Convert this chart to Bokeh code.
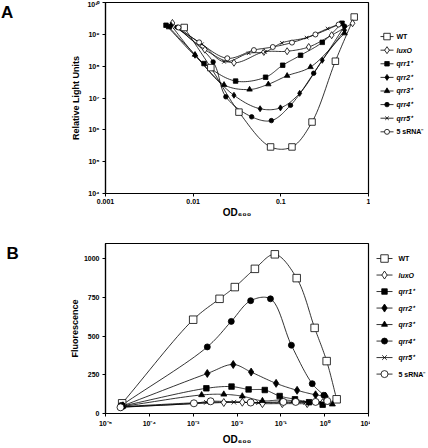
import math
from bokeh.plotting import figure
from bokeh.models import Range1d, FixedTicker, ColumnDataSource
from bokeh.layouts import column, row
from bokeh.embed import file_html
from bokeh.resources import INLINE
from bokeh.core.properties import value, field

FONT = "Liberation Sans"

# ---------------- data ----------------
series = ["WT", "luxO", "qrr1", "qrr2", "qrr3", "qrr4", "qrr5", "sRNA"]
legend_labels = ["WT", "luxO", "qrr1⁺", "qrr2⁺", "qrr3⁺", "qrr4⁺", "qrr5⁺", "5 sRNA⁻"]
legend_styles = ["bold", "bold italic", "bold italic", "bold italic",
                 "bold italic", "bold italic", "bold italic", "bold"]
panel_letters = ["A", "B"]

# Panel A: luminescence (Relative Light Units) vs OD600
a_wt_x = [0.0079, 0.0159, 0.0333, 0.0764, 0.134, 0.227, 0.419, 0.687]
a_wt_y = [1.64e9, 9.0e7, 3.6e6, 2.9e5, 2.9e5, 1.76e6, 1.43e8, 3.5e9]
a_luxo_x = [0.0058, 0.0136, 0.0292, 0.064, 0.118, 0.208, 0.38, 0.658]
a_luxo_y = [2.28e9, 3.3e8, 1.28e8, 2.8e8, 2.94e8, 4.0e8, 9.4e8, 2.23e9]
a_qrr1_x = [0.0049, 0.0133, 0.0305, 0.067, 0.105, 0.168, 0.297, 0.498]
a_qrr1_y = [1.93e9, 1.21e8, 3.4e7, 4.5e7, 1.07e8, 2.2e8, 5.6e8, 2.23e9]
a_qrr2_x = [0.0056, 0.0105, 0.0292, 0.058, 0.099, 0.164, 0.297, 0.533]
a_qrr2_y = [1.93e9, 2.2e8, 1.22e7, 4.6e6, 4.9e6, 1.4e7, 1.53e8, 1.35e9]
a_qrr3_x = [0.0053, 0.0105, 0.0225, 0.044, 0.072, 0.118, 0.218, 0.533]
a_qrr3_y = [1.67e9, 2.3e8, 2.6e7, 1.85e7, 2.7e7, 5.0e7, 9.4e7, 1.08e9]
a_qrr4_x = [0.0066, 0.0169, 0.0236, 0.0465, 0.078, 0.129, 0.237, 0.533]
a_qrr4_y = [1.67e9, 1.36e8, 1.09e7, 2.56e6, 1.95e6, 5.9e6, 6.0e7, 1.8e9]
a_qrr5_x = [0.0062, 0.0126, 0.0225, 0.043, 0.066, 0.103, 0.197, 0.342, 0.507]
a_qrr5_y = [1.67e9, 4.9e8, 1.37e8, 2.55e8, 2.8e8, 5.4e8, 7.9e8, 1.52e9, 2.28e9]
a_srna_x = [0.0068, 0.0117, 0.0245, 0.0493, 0.081, 0.134, 0.248, 0.456]
a_srna_y = [1.64e9, 5.6e8, 1.77e8, 3.2e8, 4.0e8, 5.5e8, 9.9e8, 2.03e9]

# Panel B: Fluorescence vs OD600
b_wt_x = [2.4e-5, 1.0e-3, 4.0e-3, 8.9e-3, 2.56e-2, 7.3e-2, 0.23, 0.59, 1.11, 1.88]
b_wt_y = [66, 607, 742, 818, 936, 1030, 876, 554, 339, 92]
b_luxo_x = [2.3e-5, 5.0e-3, 1.32e-2, 3.8e-2, 0.108, 0.40, 0.9]
b_luxo_y = [42, 71, 73, 64, 64, 64, 70]
b_qrr1_x = [2.4e-5, 2.0e-3, 7.5e-3, 1.84e-2, 4.3e-2, 9.4e-2, 0.21, 0.44, 0.9]
b_qrr1_y = [48, 163, 174, 156, 152, 113, 92, 73, 57]
b_qrr2_x = [2.5e-5, 2.1e-3, 8.2e-3, 2.1e-2, 7.8e-2, 0.235, 0.62, 1.05]
b_qrr2_y = [50, 259, 317, 268, 195, 150, 121, 111]
b_qrr3_x = [2.5e-5, 1.56e-3, 5.0e-3, 1.32e-2, 3.8e-2, 0.104, 0.2, 1.5]
b_qrr3_y = [46, 120, 124, 112, 82, 88, 82, 60]
b_qrr4_x = [2.3e-5, 2.1e-3, 7.4e-3, 2.05e-2, 5.8e-2, 0.174, 0.52, 0.96]
b_qrr4_y = [52, 431, 596, 730, 742, 442, 193, 118]
b_qrr5_x = [2.4e-5, 2.0e-3, 8.5e-3, 3.1e-2, 0.11, 0.37, 1.05]
b_qrr5_y = [45, 72, 73, 70, 70, 72, 75]
b_srna_x = [2.2e-5, 1.04e-3, 2.5e-3, 2.05e-2, 0.114, 0.218, 0.62, 1.15]
b_srna_y = [40, 66, 79, 71, 75, 75, 75, 81]

a_ticks_x = [0.001, 0.01, 0.1, 1]
a_tick_labels_x = ["0.001", "0.01", "0.1", "1"]
a_ticks_y = [1e4, 1e5, 1e6, 1e7, 1e8, 1e9, 1e10]
a_tick_labels_y = ["10⁴", "10⁵", "10⁶", "10⁷", "10⁸", "10⁹", "10¹⁰"]
b_ticks_x = [1e-5, 1e-4, 1e-3, 1e-2, 1e-1, 1, 10]
b_tick_labels_x = ["10⁻⁵", "10⁻⁴", "10⁻³", "10⁻²", "10⁻¹", "10⁰", "10¹"]
b_ticks_y = [0, 250, 500, 750, 1000]
b_tick_labels_y = ["0", "250", "500", "750", "1000"]

panel_a = {
    "WT": (a_wt_x, a_wt_y), "luxO": (a_luxo_x, a_luxo_y),
    "qrr1": (a_qrr1_x, a_qrr1_y), "qrr2": (a_qrr2_x, a_qrr2_y),
    "qrr3": (a_qrr3_x, a_qrr3_y), "qrr4": (a_qrr4_x, a_qrr4_y),
    "qrr5": (a_qrr5_x, a_qrr5_y), "sRNA": (a_srna_x, a_srna_y),
}
panel_b = {
    "WT": (b_wt_x, b_wt_y), "luxO": (b_luxo_x, b_luxo_y),
    "qrr1": (b_qrr1_x, b_qrr1_y), "qrr2": (b_qrr2_x, b_qrr2_y),
    "qrr3": (b_qrr3_x, b_qrr3_y), "qrr4": (b_qrr4_x, b_qrr4_y),
    "qrr5": (b_qrr5_x, b_qrr5_y), "sRNA": (b_srna_x, b_srna_y),
}

# marker, fill, size in A, size in B
MARK = {
    "WT": ("square", "white", 6.5, 7.5),
    "luxO": ("diamond", "white", 7, 8),
    "qrr1": ("square", "black", 4.5, 5.5),
    "qrr2": ("diamond", "black", 6, 8),
    "qrr3": ("triangle", "black", 5.5, 6),
    "qrr4": ("circle", "black", 4.5, 6),
    "qrr5": ("x", "black", 5, 6.5),
    "sRNA": ("circle", "white", 5, 7),
}

# ---------------- geometry ----------------
LET_W = 20
FIG_W = 350
LEG_W = 56
A_H, B_H = 240, 207
A_TOP, B_TOP = 2, 3
A_FH, B_FH = 191, 171
FW = 263


def smooth(xs, ys, fx, fy, ix, iy, n=16):
    P = [(fx(x), fy(y)) for x, y in zip(xs, ys)]
    m = len(P)
    ext = [(2 * P[0][0] - P[1][0], 2 * P[0][1] - P[1][1])] + P + \
          [(2 * P[-1][0] - P[-2][0], 2 * P[-1][1] - P[-2][1])]
    out = []
    for i in range(1, m):
        p0, p1, p2, p3 = ext[i - 1], ext[i], ext[i + 1], ext[i + 2]

        def tj(ti, a, b):
            return ti + max(math.hypot(b[0] - a[0], b[1] - a[1]), 1e-6) ** 0.5
        t0 = 0.0
        t1 = tj(t0, p0, p1)
        t2 = tj(t1, p1, p2)
        t3 = tj(t2, p2, p3)
        for k in range(n):
            t = t1 + (t2 - t1) * k / n

            def lerp(a, b, ta, tb):
                wa = (tb - t) / (tb - ta)
                wb = (t - ta) / (tb - ta)
                return (wa * a[0] + wb * b[0], wa * a[1] + wb * b[1])
            A1 = lerp(p0, p1, t0, t1)
            A2 = lerp(p1, p2, t1, t2)
            A3 = lerp(p2, p3, t2, t3)
            B1 = lerp(A1, A2, t0, t2)
            B2 = lerp(A2, A3, t1, t3)
            out.append(lerp(B1, B2, t1, t2))
    out.append(P[-1])
    return [ix(c[0]) for c in out], [iy(c[1]) for c in out]


def style_axes(p, xlab, ylab, ylab_standoff, xlab_standoff, xlab_lstand):
    for ax in (p.xaxis[0], p.yaxis[0]):
        ax.axis_line_color = "black"
        ax.axis_line_width = 1.2
        ax.major_tick_line_color = "black"
        ax.major_tick_out = 3
        ax.major_tick_in = 0
        ax.minor_tick_line_color = None
        ax.major_label_text_font = FONT
        ax.major_label_text_font_size = "7px"
        ax.major_label_text_font_style = "bold"
        ax.major_label_text_color = "black"
        ax.axis_label_text_font = FONT
        ax.axis_label_text_font_style = "bold"
        ax.axis_label_text_color = "black"
    p.xaxis.axis_label = xlab
    p.xaxis.axis_label_text_font_size = "10px"
    p.xaxis.axis_label_standoff = xlab_standoff
    p.xaxis.major_label_standoff = xlab_lstand
    p.yaxis.axis_label = ylab
    p.yaxis.axis_label_text_font_size = "9px"
    p.yaxis.axis_label_standoff = ylab_standoff
    p.yaxis.major_label_standoff = 3
    p.grid.visible = False
    p.outline_line_color = "black"
    p.outline_line_width = 1.2
    p.background_fill_color = "white"
    p.border_fill_color = "white"


def draw_series(p, data, fx, fy, ix, iy, size_idx):
    for name in series:
        xs, ys = data[name]
        sx, sy = smooth(xs, ys, fx, fy, ix, iy)
        p.line(sx, sy, line_color="black", line_width=0.8)
    for name in series:
        xs, ys = data[name]
        mk, fill, sa, sb = MARK[name]
        size = sa if size_idx == 0 else sb
        p.scatter(xs, ys, marker=mk, size=size, fill_color=fill,
                  line_color="black", line_width=0.8)


def blank_fig(w, h):
    f = figure(width=w, height=h, x_range=Range1d(0, w), y_range=Range1d(h, 0),
               x_axis_type=None, y_axis_type=None, output_backend="svg",
               toolbar_location=None, min_border=0)
    f.grid.visible = False
    f.outline_line_color = None
    f.background_fill_color = "white"
    f.border_fill_color = "white"
    return f


def letter_fig(h, letter, x_left, y_top):
    f = blank_fig(LET_W, h)
    f.text(x=[x_left], y=[y_top], text=[letter], text_font=value(FONT),
           text_font_size="17px", text_font_style="bold",
           text_baseline="top", text_align="left", text_color="black")
    return f


# ---------------- panel A ----------------
pa = figure(width=FIG_W, height=A_H, x_axis_type="log", y_axis_type="log",
            x_range=Range1d(1e-3, 1), y_range=Range1d(1e4, 1e10),
            output_backend="svg", toolbar_location=None,
            min_border_left=FIG_W - FW - 2, min_border_right=2,
            min_border_top=A_TOP, min_border_bottom=A_H - A_TOP - A_FH)
pa.xaxis.ticker = FixedTicker(ticks=a_ticks_x)
pa.xaxis.major_label_overrides = dict(zip(a_ticks_x, a_tick_labels_x))
pa.yaxis.ticker = FixedTicker(ticks=a_ticks_y)
pa.yaxis.major_label_overrides = dict(zip(a_ticks_y, a_tick_labels_y))
style_axes(pa, "OD₆₀₀", "Relative Light Units", 3, 0, 2)

ax_px = FW / 3.0
ay_px = A_FH / 6.0
draw_series(pa, panel_a,
            lambda x: math.log10(x) * ax_px, lambda y: math.log10(y) * ay_px,
            lambda u: 10 ** (u / ax_px), lambda v: 10 ** (v / ay_px), 0)

# ---------------- panel B ----------------
pb = figure(width=FIG_W, height=B_H, x_axis_type="log",
            x_range=Range1d(1e-5, 10), y_range=Range1d(0, 1100),
            output_backend="svg", toolbar_location=None,
            min_border_left=FIG_W - FW - 2, min_border_right=2,
            min_border_top=B_TOP, min_border_bottom=B_H - B_TOP - B_FH)
pb.xaxis.ticker = FixedTicker(ticks=b_ticks_x)
pb.xaxis.major_label_overrides = dict(zip(b_ticks_x, b_tick_labels_x))
pb.yaxis.ticker = FixedTicker(ticks=b_ticks_y)
pb.yaxis.major_label_overrides = dict(zip(b_ticks_y, b_tick_labels_y))
style_axes(pb, "OD₆₀₀", "Fluorescence", 1, 4, 3)

bx_px = FW / 6.0
by_px = B_FH / 1100.0
draw_series(pb, panel_b,
            lambda x: math.log10(x) * bx_px, lambda y: y * by_px,
            lambda u: 10 ** (u / bx_px), lambda v: v / by_px, 1)


# ---------------- legends (drawn as separate side figures) ----------------
def legend_fig(h, y0, dy, x_line0, x_line1, x_mark, x_text, size_idx):
    lf = blank_fig(LEG_W, h)
    ys = [y0 + dy * i for i in range(len(series))]
    lf.multi_line([[x_line0, x_line1] for _ in ys], [[y, y] for y in ys],
                  line_color="black", line_width=0.8)
    src = ColumnDataSource(dict(
        x=[x_mark] * len(ys), y=ys,
        marker=[MARK[s][0] for s in series],
        fill=[MARK[s][1] for s in series],
        size=[MARK[s][2 + size_idx] for s in series],
    ))
    lf.scatter(x="x", y="y", marker="marker", size="size", fill_color="fill",
               line_color="black", line_width=0.8, source=src)
    tsrc = ColumnDataSource(dict(x=[x_text] * len(ys), y=ys, text=legend_labels,
                                 style=legend_styles))
    lf.text(x="x", y="y", text="text", source=tsrc, text_font=value(FONT),
            text_font_size="7px", text_font_style=field("style"),
            text_baseline="middle", text_align="left", text_color="black")
    return lf


la = legend_fig(A_H, 42.8, 17.1, 10, 23, 16.5, 26, 0)
lb = legend_fig(B_H, 18.3, 20.1, 6, 22, 14, 28, 1)
ka = letter_fig(A_H, panel_letters[0], 0.5, 0)
kb = letter_fig(B_H, panel_letters[1], 6, 1)

layout = column(row(ka, pa, la), row(kb, pb, lb))

open("out.html", "w").write(file_html(layout, INLINE))
